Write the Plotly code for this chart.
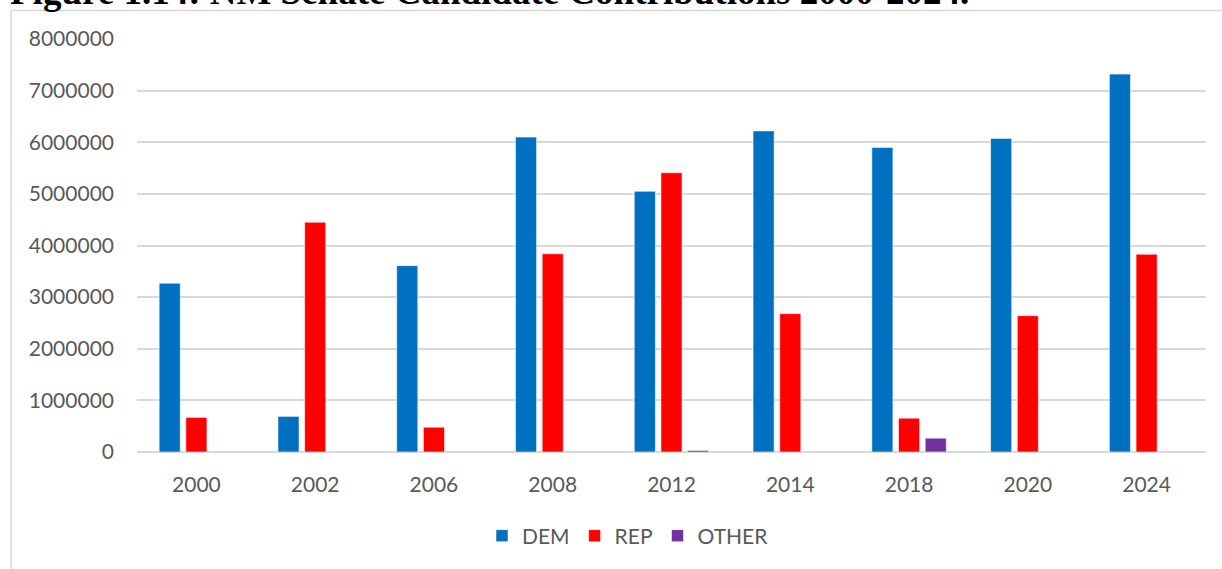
import plotly.graph_objects as go

# Election cycles and total contributions (USD) by party
years = ["2000", "2002", "2006", "2008", "2012", "2014", "2018", "2020", "2024"]
dem = [3270000, 690000, 3610000, 6100000, 5050000, 6220000, 5900000, 6075000, 7320000]
rep = [670000, 4450000, 480000, 3840000, 5410000, 2680000, 655000, 2640000, 3830000]
other = [None, None, None, None, 30000, None, 267000, None, None]

y_ticks = [0, 1000000, 2000000, 3000000, 4000000, 5000000, 6000000, 7000000, 8000000]

title_text = "<b>Figure 1.14: NM Senate Candidate Contributions 2000-2024.</b>"

W, H = 1222, 569
L, R, T, B = 137, 16, 39, 117
plot_w = W - L - R
plot_h = H - T - B

def px_x(px):
    return (px - L) / plot_w

def px_y(py):
    return (H - B - py) / plot_h

label_font = dict(family="Lato, Carlito, Calibri, sans-serif", size=21, color="#595959")
edge = dict(color="rgba(255,255,255,0.55)", width=1)

fig = go.Figure()
fig.add_trace(go.Bar(name="DEM", x=years, y=dem, marker=dict(color="#0070C0", line=edge)))
fig.add_trace(go.Bar(name="REP", x=years, y=rep, marker=dict(color="#FF0000", line=edge)))
fig.add_trace(go.Bar(name="OTHER", x=years, y=other, marker=dict(color="#7030A0", line=edge)))

fig.update_layout(
    width=W, height=H,
    margin=dict(l=L, r=R, t=T, b=B, pad=0),
    paper_bgcolor="white", plot_bgcolor="white",
    barmode="group", bargap=0.326, bargroupgap=0.21,
    font=label_font,
    showlegend=True,
    legend=dict(orientation="h", x=px_x(628), xanchor="center",
                y=px_y(536), yanchor="middle", font=label_font,
                traceorder="normal", itemclick=False),
    shapes=[dict(type="rect", xref="paper", yref="paper", layer="below",
                 x0=px_x(11), x1=px_x(1300), y0=px_y(700), y1=px_y(10.5),
                 line=dict(color="#d9d9d9", width=1.5), fillcolor="rgba(0,0,0,0)")],
    annotations=[dict(text=title_text, xref="paper", yref="paper",
                      x=px_x(8), xanchor="left", y=px_y(-8), yanchor="middle",
                      showarrow=False,
                      font=dict(family="Liberation Serif, Times New Roman, serif",
                                size=37, color="black"))],
)

fig.update_xaxes(showgrid=False, showline=False, ticks="",
                 tickfont=label_font, ticklabelstandoff=18)
fig.update_yaxes(range=[0, 8000000], tickvals=y_ticks,
                 ticktext=[str(v) for v in y_ticks],
                 showgrid=True, gridcolor="#d9d9d9", gridwidth=1.5,
                 zeroline=True, zerolinecolor="#d9d9d9", zerolinewidth=1.5,
                 showline=False, ticks="", tickfont=label_font,
                 ticklabelstandoff=22)

fig.write_html("out.html")
